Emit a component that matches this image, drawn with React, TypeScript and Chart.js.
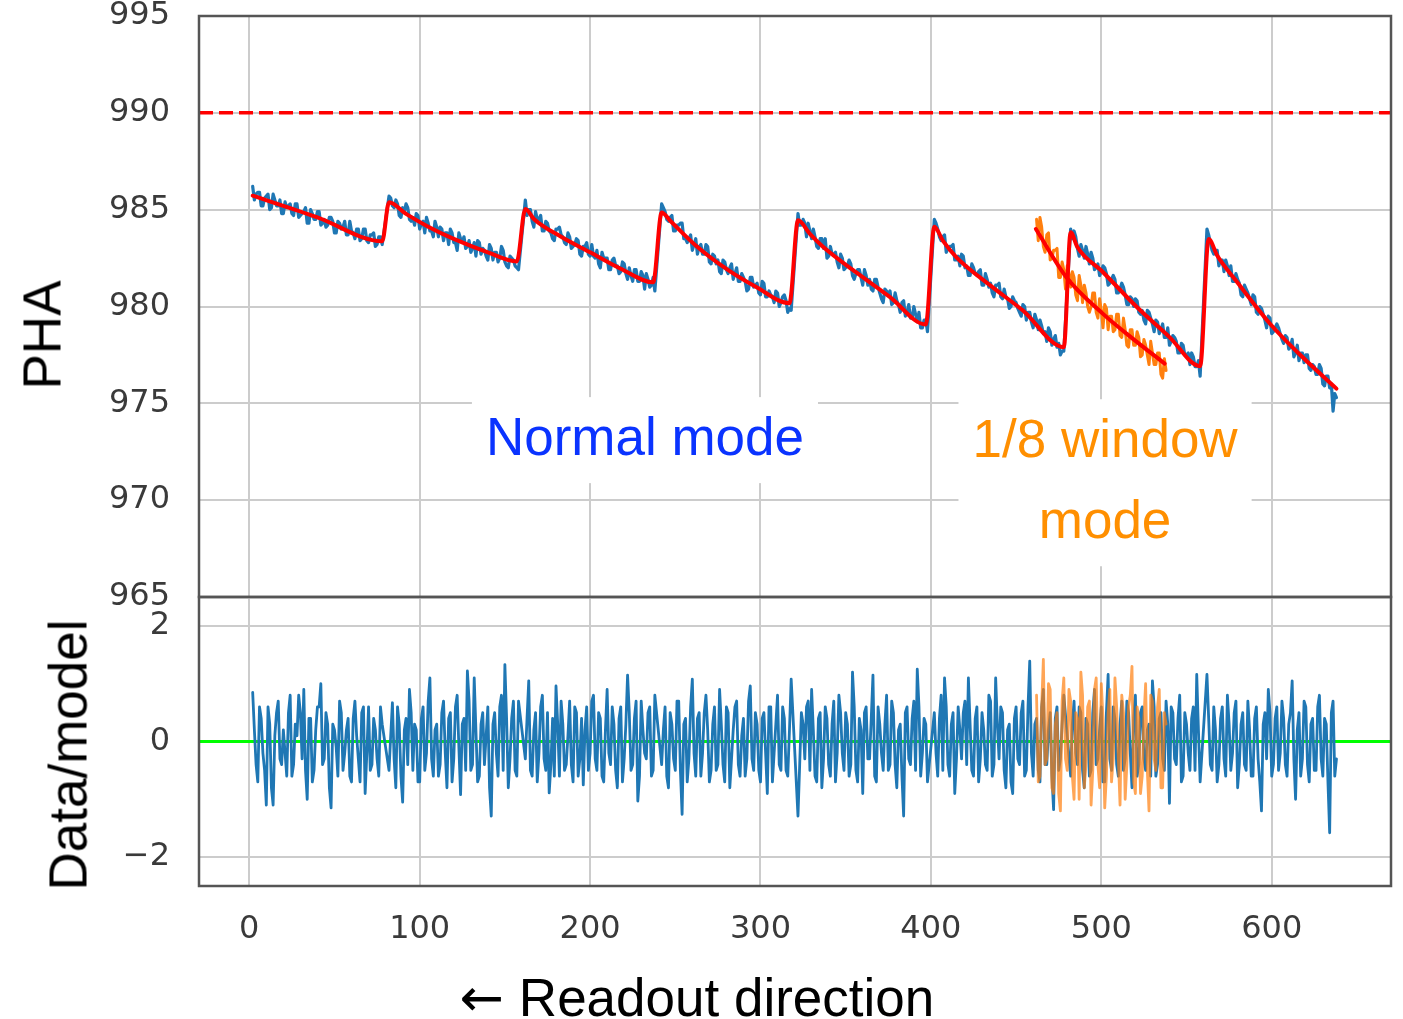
import React, { useEffect, useRef } from 'react';
import { Chart, registerables } from 'chart.js';

Chart.register(...registerables);

// ---- sampling grid: 8 readout frames; even columns (start, start+2, ...) and odd columns (start+1, start+3, ...) ----
const SEG_STARTS = [2, 82, 162, 242, 322, 402, 482, 562];
const SAMPLE_STEP = 2;
const WINDOW_START = 462;

// ---- PHA, normal mode: even columns ----
const PHA_SEG1 = [986.2, 985.8, 985.9, 985.2, 985.7, 985.0, 985.8, 985.2, 985.5, 984.8, 985.1, 985.3, 984.7, 985.3, 984.7, 984.9, 984.3, 985.0, 984.5, 984.9, 984.2, 984.5, 984.2, 984.6, 983.8, 984.4, 984.0, 984.4, 983.7, 983.9, 983.5, 984.0, 983.5, 984.0, 983.3, 983.7, 983.1, 983.6, 983.2];
const PHA_SEG2 = [985.7, 985.2, 985.5, 984.7, 985.1, 985.3, 984.5, 984.6, 984.8, 984.0, 984.4, 984.6, 983.9, 983.6, 984.1, 984.1, 983.4, 983.8, 984.0, 983.3, 982.9, 983.5, 983.6, 983.1, 982.8, 983.3, 983.4, 982.7, 982.9, 982.4, 983.0, 982.8, 982.3, 983.1, 982.3, 982.0, 982.5, 982.1, 981.9];
const PHA_SEG3 = [985.5, 985.0, 984.4, 984.9, 984.5, 983.9, 984.4, 983.9, 983.5, 984.0, 984.1, 983.6, 983.2, 983.6, 983.1, 983.5, 982.7, 983.1, 983.3, 982.6, 982.6, 982.9, 982.0, 982.5, 982.5, 981.9, 982.5, 982.1, 981.8, 982.2, 981.4, 981.6, 981.9, 981.3, 981.8, 980.9, 981.4, 981.1, 980.8];
const PHA_SEG4 = [985.3, 984.9, 984.4, 984.7, 983.9, 984.2, 984.3, 983.5, 983.5, 982.9, 983.5, 983.1, 982.7, 983.2, 982.3, 982.7, 982.2, 981.8, 982.4, 981.9, 982.0, 981.4, 982.0, 981.3, 981.5, 980.8, 981.5, 981.0, 981.2, 980.6, 981.2, 980.5, 980.6, 980.2, 980.7, 980.2, 980.6, 979.7, 979.8];
const PHA_SEG5 = [984.8, 984.2, 984.3, 984.3, 983.5, 983.6, 983.0, 983.5, 983.5, 982.6, 982.7, 982.8, 982.0, 982.5, 982.0, 982.4, 981.6, 981.7, 981.9, 981.1, 981.6, 981.4, 980.8, 981.4, 980.7, 980.2, 980.8, 980.8, 980.2, 980.3, 979.7, 980.3, 979.7, 979.4, 980.0, 979.2, 978.9, 979.3, 978.7];
const PHA_SEG6 = [984.5, 984.0, 983.4, 983.7, 983.0, 983.1, 982.4, 982.6, 982.7, 982.0, 981.6, 982.2, 981.7, 981.8, 981.1, 981.7, 981.0, 980.7, 981.1, 981.2, 980.4, 980.5, 979.9, 980.5, 980.2, 979.7, 980.1, 979.3, 979.7, 978.9, 979.3, 979.3, 978.6, 978.2, 978.7, 978.3, 977.9, 977.5, 977.7];
const PHA_SEG7 = [984.0, 983.9, 983.0, 983.2, 982.5, 982.7, 982.8, 981.9, 982.2, 981.8, 982.0, 981.1, 981.4, 981.4, 980.7, 981.2, 980.6, 980.1, 980.4, 980.4, 979.7, 979.8, 979.1, 979.7, 979.1, 979.3, 978.6, 979.1, 978.4, 978.0, 978.5, 978.2, 977.6, 978.0, 977.5, 977.0, 977.4, 976.9, 976.4];
const PHA_SEG8 = [984.0, 983.3, 982.7, 982.9, 982.4, 981.8, 982.1, 982.1, 981.3, 981.4, 980.6, 981.1, 980.7, 980.1, 980.5, 979.6, 979.9, 979.3, 979.5, 978.6, 978.9, 978.9, 978.3, 978.5, 977.8, 978.3, 977.6, 977.2, 977.6, 977.5, 976.8, 977.0, 976.5, 977.0, 976.0, 976.4, 975.8, 974.6, 975.3];

// ---- PHA, normal mode: odd columns ----
const PHA_ODD1 = [985.5, 985.9, 985.2, 985.6, 985.8, 985.1, 985.5, 985.2, 984.8, 985.4, 985.2, 984.8, 985.3, 984.6, 984.8, 985.1, 984.3, 984.8, 984.5, 984.9, 984.3, 984.1, 984.6, 984.4, 983.8, 984.3, 984.1, 983.7, 984.4, 983.8, 984.0, 983.4, 984.0, 983.4, 983.7, 983.8, 983.2, 983.6];
const PHA_ODD2 = [985.6, 985.1, 985.3, 984.6, 984.9, 985.1, 984.4, 984.2, 984.7, 984.3, 983.8, 984.3, 983.9, 984.4, 983.6, 984.0, 983.8, 983.2, 983.8, 983.3, 983.8, 983.3, 983.0, 983.4, 983.0, 982.6, 983.3, 983.0, 982.6, 983.2, 982.4, 982.8, 982.5, 982.9, 982.1, 982.6, 982.4, 982.0];
const PHA_ODD3 = [984.7, 985.0, 984.1, 984.5, 984.7, 983.9, 984.3, 983.8, 983.4, 984.0, 983.7, 983.3, 983.8, 983.0, 983.2, 983.4, 982.6, 983.1, 982.7, 983.2, 982.5, 982.2, 982.8, 982.5, 981.9, 982.4, 982.1, 981.7, 982.3, 981.7, 982.0, 981.3, 981.9, 981.3, 981.6, 981.7, 981.0, 981.5];
const PHA_ODD4 = [985.1, 984.5, 984.6, 983.9, 984.2, 984.3, 983.5, 983.3, 983.7, 983.2, 982.7, 983.2, 982.7, 983.1, 982.2, 982.6, 982.4, 981.7, 982.3, 981.7, 982.2, 981.7, 981.3, 981.7, 981.3, 980.9, 981.5, 981.1, 980.7, 981.3, 980.5, 980.8, 980.5, 980.8, 980.0, 980.5, 980.3, 979.9];
const PHA_ODD5 = [984.2, 984.5, 983.6, 983.9, 984.0, 983.1, 983.5, 983.0, 982.5, 983.1, 982.7, 982.3, 982.7, 981.9, 982.1, 982.2, 981.4, 981.9, 981.5, 981.9, 981.1, 980.9, 981.4, 981.0, 980.4, 980.9, 980.6, 980.1, 980.7, 980.1, 980.2, 979.5, 980.1, 979.4, 979.6, 979.7, 978.9, 979.3];
const PHA_ODD6 = [984.3, 983.6, 983.6, 982.8, 983.1, 983.2, 982.4, 982.1, 982.6, 982.1, 981.6, 982.0, 981.6, 981.9, 981.1, 981.4, 981.2, 980.5, 981.1, 980.5, 980.9, 980.4, 980.0, 980.3, 979.9, 979.5, 980.0, 979.7, 979.2, 979.6, 978.8, 979.0, 978.7, 978.9, 978.0, 978.5, 978.1, 977.7];
const PHA_ODD7 = [983.5, 983.6, 982.6, 982.9, 983.1, 982.2, 982.5, 982.0, 981.6, 982.1, 981.7, 981.2, 981.6, 980.7, 980.9, 981.0, 980.1, 980.5, 980.0, 980.3, 979.6, 979.3, 979.8, 979.4, 978.7, 979.2, 978.8, 978.4, 978.9, 978.2, 978.4, 977.6, 978.1, 977.5, 977.6, 977.6, 976.9, 977.2];
const PHA_ODD8 = [983.7, 982.9, 982.9, 982.1, 982.4, 982.4, 981.6, 981.3, 981.7, 981.2, 980.5, 980.9, 980.4, 980.6, 979.7, 980.0, 979.6, 978.9, 979.4, 978.7, 979.1, 978.6, 978.1, 978.4, 977.9, 977.4, 978.0, 977.6, 977.1, 977.5, 976.7, 976.9, 976.5, 976.8, 975.9, 976.4, 976.0, 975.5];

// ---- PHA, 1/8 window mode ----
const PHA_WINDOW = [984.5, 984.6, 983.1, 983.7, 982.4, 982.9, 983.0, 981.5, 981.9, 982.1, 981.0, 981.5, 980.3, 981.1, 981.1, 980.0, 980.0, 980.7, 979.4, 979.8, 980.1, 978.8, 979.5, 978.8, 979.6, 978.4, 978.8, 977.9, 978.8, 978.0, 978.4, 977.5, 978.0, 977.0, 977.6, 977.0, 977.6, 976.3, 976.7];
const PHA_WINDOW_ODD = [983.4, 984.1, 982.8, 983.8, 982.5, 982.9, 981.5, 982.3, 980.9, 981.7, 981.8, 980.6, 981.6, 980.2, 980.7, 979.7, 980.7, 979.7, 980.4, 978.9, 979.9, 979.5, 978.7, 979.6, 978.5, 979.4, 978.0, 978.8, 978.0, 978.7, 977.4, 978.3, 977.5, 978.2, 977.0, 977.6, 976.5, 977.3];

// ---- model (fit) curves ----
const FIT_X = [2, 40, 78, 82, 92, 105, 120, 140, 157, 162, 167, 183, 200, 218, 237, 242, 247, 262, 280, 298, 317, 322, 329, 337, 356, 376, 397, 402, 407, 415, 435, 454, 478, 482, 486, 501, 521, 540, 558, 563, 568, 579, 599, 618, 638];
const FIT_Y = [985.72, 984.6, 983.37, 985.38, 984.78, 984.12, 983.49, 982.8, 982.33, 985.04, 984.52, 983.6, 982.8, 981.95, 981.25, 984.86, 984.43, 983.15, 981.94, 980.98, 980.17, 984.45, 983.75, 983.06, 981.77, 980.48, 979.07, 984.12, 983.4, 982.54, 981.08, 979.79, 977.9, 983.83, 983.06, 981.77, 979.96, 978.42, 976.92, 983.49, 982.63, 981.34, 979.11, 977.39, 975.76];
const WIN_FIT_X = [461.6, 479.5, 501, 518.6, 537.2];
const WIN_FIT_Y = [984.0, 981.51, 979.62, 978.33, 977.05];
const THRESHOLD = 990;

// ---- residuals (Data/model): even columns ----
const RES_SEG1 = [0.85, -0.4, 0.6, -0.2, -1.1, 0.3, -1.1, 0.5, -0.3, 0.2, -0.6, 0.8, -0.4, 0.1, 0.5, 0.9, -1.0, 0.4, -0.5, 0.6, 1.0, -0.3, 0.3, -1.15, 0.2, -0.6, 0.5, -0.2, 0.4, -0.7, 0.7, -0.3, 0.5, -0.9, 0.6, -0.4, 0.2, -0.6, 0.3];
const RES_SEG2 = [-0.5, 0.67, -0.8, 0.3, -1.05, 0.4, 0.9, -0.5, 0.2, -0.7, 0.6, -0.2, 1.1, -0.6, 0.3, -0.4, 0.7, -0.8, 0.5, -0.3, 0.8, -0.92, 0.4, 1.22, -0.5, 1.1, -0.7, 0.3, -0.4, 0.6, -1.29, 0.5, -0.6, 0.8, 1.33, -0.8, 0.4, -0.5, 0.7];
const RES_SEG3 = [-0.3, 1.05, -0.6, 0.5, -0.2, 0.8, -0.5, -0.89, 0.4, 0.96, -0.6, 0.3, -0.4, 0.7, -0.7, 0.5, -0.3, -0.75, 0.6, -0.2, 0.8, -0.5, 0.4, -0.7, 0.9, -0.4, 0.3, -0.8, 0.6, -0.3, 1.15, -0.5, 0.4, -1.03, 0.7, -0.2, 0.5, -0.6, 0.8];
const RES_SEG4 = [-0.4, 0.6, -0.8, 0.3, -0.5, 0.7, -1.26, 0.4, -0.3, 1.08, -0.6, 0.5, -0.2, 0.8, -0.7, 0.3, -0.5, 0.9, -0.4, 0.6, -0.8, 0.2, 0.7, -0.6, 0.4, -0.3, 0.96, -0.5, 0.3, -0.7, 0.5, -0.9, 0.6, -0.2, 0.8, -0.5, 0.4, -0.6, 1.08];
const RES_SEG5 = [-1.29, 0.5, -0.3, 0.7, 0.9, -0.6, 0.4, -0.8, 0.6, -0.4, 0.3, -0.7, 0.8, -0.2, 0.5, -0.6, 1.2, -0.5, 0.4, -0.9, 0.6, -0.3, 1.15, -0.7, 0.3, -0.5, 0.8, -0.4, 0.5, -0.8, 0.3, -1.29, 0.6, -0.4, 0.7, 1.25, -0.6, 0.4, -0.7];
const RES_SEG6 = [0.5, -0.6, 0.8, 1.1, -0.4, 0.3, -0.9, 0.6, -0.3, 0.7, 1.1, -0.5, 0.4, -0.7, 0.5, -0.4, 0.8, -0.6, 1.1, -0.3, 0.5, -0.8, 0.3, -0.9, 0.6, -0.4, 0.7, -0.5, 1.39, -0.6, 0.4, -0.7, 0.9, -0.4, 0.5, -1.18, 0.6, -0.3, 0.8];
const RES_SEG7 = [-0.6, 0.7, -0.4, 0.5, -0.8, 0.3, -0.5, 0.9, -0.3, 0.6, -0.7, 1.16, -0.5, 0.4, -0.6, 0.7, -0.3, 0.5, -0.8, 0.8, -0.4, 0.6, -0.5, 0.3, 1.05, -0.6, 0.4, -0.3, 0.7, -1.07, 0.5, -0.4, 0.8, -0.6, 0.3, -0.5, 0.6, 1.16, -0.7];
const RES_SEG8 = [1.16, -0.4, 0.6, -0.7, 0.4, -0.3, 0.8, -0.5, 0.5, -0.8, 0.3, -0.4, 0.7, -0.6, 0.4, -0.3, -1.2, 0.5, 0.9, -0.6, 0.4, -0.5, 0.7, -0.4, 0.3, 1.05, -1.0, 0.5, -0.3, 0.6, -0.7, 0.4, -0.5, 0.8, -0.6, 0.3, -1.58, 0.7, -0.3];

// ---- residuals (Data/model): odd columns ----
const RES_ODD1 = [0.2, -0.7, 0.4, -0.5, 0.6, -0.8, 0.1, 0.7, -0.4, -0.2, 0.5, -0.6, 0.3, 0.8, -0.3, -0.5, 0.4, -0.7, 0.2, 0.6, -0.4, 0.5, -0.8, 0.3, -0.1, 0.7, -0.5, 0.2, -0.6, 0.4, 0.1, -0.7, 0.6, -0.2, -0.5, 0.4, -0.3, 0.6];
const RES_ODD2 = [0.1, -0.3, 0.6, -0.6, 0.2, -0.4, 0.5, 0.3, -0.7, 0.4, -0.5, 0.7, -0.3, 0.2, -0.6, 0.5, -0.2, 0.4, -0.7, 0.6, -0.1, 0.3, -0.5, 0.7, -0.4, 0.2, -0.6, 0.5, 0.1, -0.8, 0.3, -0.2, 0.6, -0.5, 0.4, -0.3, 0.7, -0.6];
const RES_ODD3 = [0.4, -0.5, 0.2, -0.7, 0.6, -0.3, 0.5, -0.4, -0.6, 0.3, 0.7, -0.5, 0.1, -0.4, 0.6, -0.6, 0.4, 0.2, -0.5, 0.7, -0.3, 0.5, -0.6, 0.2, -0.2, 0.6, -0.5, 0.4, -0.7, 0.3, 0.5, -0.4, 0.7, -0.6, 0.2, -0.3, 0.6, -0.5];
const RES_ODD4 = [0.2, -0.6, 0.5, -0.3, 0.7, -0.5, 0.3, -0.7, 0.6, -0.2, 0.4, -0.6, 0.5, 0.2, -0.5, 0.6, -0.4, 0.3, -0.7, 0.5, -0.3, 0.6, -0.4, 0.1, -0.6, 0.7, -0.3, 0.5, -0.5, 0.4, -0.2, 0.6, -0.7, 0.3, -0.4, 0.6, -0.5, 0.2];
const RES_ODD5 = [-0.4, 0.3, 0.6, -0.5, 0.2, -0.7, 0.5, -0.3, 0.4, -0.6, 0.7, -0.2, 0.5, -0.5, 0.3, -0.4, 0.6, -0.7, 0.2, 0.5, -0.3, 0.4, -0.6, 0.6, -0.2, 0.3, -0.5, 0.7, -0.4, 0.2, -0.6, 0.5, -0.3, 0.4, -0.5, 0.6, -0.2, 0.3];
const RES_ODD6 = [-0.2, 0.4, -0.5, 0.6, -0.6, 0.5, -0.3, 0.2, 0.5, -0.4, 0.3, -0.6, 0.6, -0.3, 0.2, -0.5, 0.7, -0.4, 0.3, 0.6, -0.5, 0.2, -0.7, 0.4, -0.3, 0.5, -0.6, 0.6, -0.2, 0.3, -0.5, 0.6, -0.4, 0.2, -0.6, 0.4, -0.5, 0.3];
const RES_ODD7 = [0.3, -0.2, 0.6, -0.5, 0.4, -0.6, 0.5, -0.4, 0.2, -0.7, 0.5, -0.3, 0.6, -0.4, 0.3, -0.5, 0.7, -0.2, 0.4, -0.6, 0.5, -0.3, 0.2, -0.6, 0.6, -0.4, 0.5, -0.5, 0.3, 0.6, -0.3, 0.4, -0.7, 0.5, -0.2, 0.4, -0.5, 0.2];
const RES_ODD8 = [0.4, -0.5, 0.2, -0.4, 0.6, -0.6, 0.3, -0.2, 0.7, -0.4, 0.5, -0.5, 0.2, -0.6, 0.6, -0.7, 0.3, -0.3, 0.5, -0.4, 0.6, -0.2, 0.4, -0.6, 0.5, -0.3, 0.2, -0.6, 0.7, -0.4, 0.3, -0.5, 0.6, -0.3, 0.4, -0.7, 0.5, -0.6];

// ---- residuals, 1/8 window mode ----
const RES_WINDOW = [0.8, -0.6, 1.42, -0.3, 0.9, -0.9, 0.5, -1.2, 1.1, -0.5, 0.7, -1.0, 0.4, 1.2, -0.8, 0.6, -1.1, 0.9, -0.4, 1.0, -1.15, 0.5, -0.7, 1.1, -0.3, 0.8, -1.0, 0.6, 1.3, -0.9, 0.4, -0.6, 1.0, -1.2, 0.7, -0.5, 0.9, -0.8, 0.3];
const RES_WINDOW_ODD = [-0.7, 0.6, -0.4, 1.0, -0.8, 0.3, -0.9, 0.7, -0.3, 0.9, -0.6, 0.5, -1.0, 0.8, -0.4, 0.7, -0.5, 1.1, -0.8, 0.4, -0.6, 0.9, -0.3, 0.6, -1.1, 0.5, -0.4, 0.8, -0.7, 0.6, -0.9, 0.4, -0.5, 0.8, -0.3, 0.6, -0.8, 0.5];

// ---- axes ----
const X_TICKS = [0, 100, 200, 300, 400, 500, 600];
const PHA_TICKS = [965, 970, 975, 980, 985, 990, 995];
const RES_TICKS = [-2, 0, 2];
const X_MIN = -29.5;
const X_MAX = 670;
const PHA_MIN = 965;
const PHA_MAX = 995;
const RES_MIN = -2.5;
const RES_MAX = 2.5;

// ---- annotations (text anchored in data coordinates) ----
const NOTES = [
  { lines: ['Normal mode'], x: 232.2, y: 973.1, color: '#0a33ff' },
  { lines: ['1/8 window', 'mode'], x: 502.2, y: 970.9, color: '#ff8f00' },
];

const FONT_LABEL = '"Liberation Sans", Arial, Helvetica, sans-serif';
const FONT_TICK = '"DejaVu Sans", sans-serif';
const BLUE = '#1f77b4';
const ORANGE = '#ff7f0e';
const RED = '#ff0000';
const GREEN = '#00ff00';
const GRID = '#cccccc';
const FRAME = '#555555';
const TICK_COLOR = '#3a3a3a';
const NOTE_LINE_GAP = 81;

type P = { x: number; y: number };
function columnPoints(x0: number, even: number[], odd: number[]): P[] {
  const pts: P[] = [];
  even.forEach((v, i) => pts.push({ x: x0 + i * SAMPLE_STEP, y: v }));
  odd.forEach((v, i) => pts.push({ x: x0 + 1 + i * SAMPLE_STEP, y: v }));
  return pts.sort((a, b) => a.x - b.x);
}
function framesPoints(evens: number[][], odds: number[][]): P[] {
  return evens.flatMap((ev, s) => columnPoints(SEG_STARTS[s], ev, odds[s]));
}
function xyPoints(xs: number[], ys: number[]): P[] {
  return xs.map((x, i) => ({ x, y: ys[i] }));
}

const framePlugin = {
  id: 'frame',
  afterDraw(chart: any) {
    const { ctx, chartArea: a } = chart;
    ctx.save();
    ctx.strokeStyle = FRAME;
    ctx.lineWidth = 2.5;
    ctx.strokeRect(a.left, a.top, a.right - a.left, a.bottom - a.top);
    ctx.restore();
  },
};

const notesPlugin = {
  id: 'notes',
  afterDatasetsDraw(chart: any) {
    const { ctx, scales } = chart;
    ctx.save();
    ctx.font = `53px ${FONT_LABEL}`;
    ctx.textAlign = 'center';
    ctx.textBaseline = 'middle';
    for (const n of NOTES) {
      const cx = scales.x.getPixelForValue(n.x);
      const cy = scales.y.getPixelForValue(n.y);
      const w = Math.max(...n.lines.map((l) => ctx.measureText(l).width));
      const span = (n.lines.length - 1) * NOTE_LINE_GAP;
      const halfH = span / 2 + 43;
      ctx.fillStyle = '#ffffff';
      ctx.fillRect(cx - w / 2 - 14, cy - halfH, w + 28, halfH * 2);
      ctx.fillStyle = n.color;
      n.lines.forEach((l, k) => ctx.fillText(l, cx, cy - span / 2 + k * NOTE_LINE_GAP));
    }
    ctx.restore();
  },
};

const tickFont = { family: FONT_TICK, size: 32 };
const grid = { color: GRID, lineWidth: 2, drawTicks: false };

function setTicks(values: number[]) {
  return (s: any) => {
    s.ticks = values.map((v) => ({ value: v }));
  };
}
function minusFmt(v: any) {
  const n = Number(v);
  return n < 0 ? '\u2212' + Math.abs(n) : String(n);
}

const lineBase = { pointRadius: 0, borderJoinStyle: 'round', borderCapStyle: 'round' };

export default function App() {
  const topRef = useRef<HTMLCanvasElement>(null);
  const botRef = useRef<HTMLCanvasElement>(null);

  useEffect(() => {
    const normalPts = framesPoints(
      [PHA_SEG1, PHA_SEG2, PHA_SEG3, PHA_SEG4, PHA_SEG5, PHA_SEG6, PHA_SEG7, PHA_SEG8],
      [PHA_ODD1, PHA_ODD2, PHA_ODD3, PHA_ODD4, PHA_ODD5, PHA_ODD6, PHA_ODD7, PHA_ODD8],
    );
    const windowPts = columnPoints(WINDOW_START, PHA_WINDOW, PHA_WINDOW_ODD);
    const resPts = framesPoints(
      [RES_SEG1, RES_SEG2, RES_SEG3, RES_SEG4, RES_SEG5, RES_SEG6, RES_SEG7, RES_SEG8],
      [RES_ODD1, RES_ODD2, RES_ODD3, RES_ODD4, RES_ODD5, RES_ODD6, RES_ODD7, RES_ODD8],
    );
    const resWinPts = columnPoints(WINDOW_START, RES_WINDOW, RES_WINDOW_ODD);

    const top = new Chart(topRef.current!, {
      type: 'line',
      data: {
        datasets: [
          { ...lineBase, label: 'model', data: xyPoints(FIT_X, FIT_Y), borderColor: RED, borderWidth: 4, cubicInterpolationMode: 'monotone', order: 0 } as any,
          { ...lineBase, label: 'model (1/8 window)', data: xyPoints(WIN_FIT_X, WIN_FIT_Y), borderColor: RED, borderWidth: 4, cubicInterpolationMode: 'monotone', order: 0 } as any,
          { ...lineBase, label: '1/8 window mode', data: windowPts, borderColor: ORANGE, borderWidth: 3, order: 1 } as any,
          { ...lineBase, label: 'Normal mode', data: normalPts, borderColor: BLUE, borderWidth: 3.2, order: 2 } as any,
          { pointRadius: 0, label: 'threshold', data: [{ x: X_MIN, y: THRESHOLD }, { x: X_MAX, y: THRESHOLD }], borderColor: RED, borderWidth: 3.5, borderDash: [14, 6], order: 3 },
        ],
      },
      options: {
        responsive: false,
        animation: false,
        events: [],
        layout: { padding: { top: 16, bottom: 422, left: 0, right: 12 } },
        plugins: { legend: { display: false }, tooltip: { enabled: false } },
        scales: {
          x: {
            type: 'linear', min: X_MIN, max: X_MAX,
            afterBuildTicks: setTicks(X_TICKS),
            ticks: { display: false },
            grid, border: { display: false },
            afterFit: (s: any) => { s.height = 0; s.paddingLeft = 0; s.paddingRight = 0; },
          },
          y: {
            type: 'linear', min: PHA_MIN, max: PHA_MAX,
            afterBuildTicks: setTicks(PHA_TICKS),
            ticks: { font: tickFont, color: TICK_COLOR, padding: 29 },
            grid, border: { display: false },
            afterFit: (s: any) => { s.width = 199; s.paddingTop = 0; s.paddingBottom = 0; },
          },
        },
      } as any,
      plugins: [notesPlugin, framePlugin],
    });

    const bot = new Chart(botRef.current!, {
      type: 'line',
      data: {
        datasets: [
          { ...lineBase, label: 'residual (1/8 window)', data: resWinPts, borderColor: 'rgba(255,127,14,0.7)', borderWidth: 2.8, order: 0 } as any,
          { ...lineBase, label: 'residual (normal)', data: resPts, borderColor: BLUE, borderWidth: 2.8, order: 1 } as any,
          { pointRadius: 0, label: 'zero', data: [{ x: X_MIN, y: 0 }, { x: X_MAX, y: 0 }], borderColor: GREEN, borderWidth: 3, order: 2 },
        ],
      },
      options: {
        responsive: false,
        animation: false,
        events: [],
        layout: { padding: { top: 597, bottom: 53, left: 0, right: 12 } },
        plugins: { legend: { display: false }, tooltip: { enabled: false } },
        scales: {
          x: {
            type: 'linear', min: X_MIN, max: X_MAX,
            afterBuildTicks: setTicks(X_TICKS),
            ticks: { font: tickFont, color: TICK_COLOR, padding: 24, maxRotation: 0 },
            grid, border: { display: false },
            afterFit: (s: any) => { s.height = 80; s.paddingLeft = 0; s.paddingRight = 0; },
          },
          y: {
            type: 'linear', min: RES_MIN, max: RES_MAX,
            afterBuildTicks: setTicks(RES_TICKS),
            ticks: { font: tickFont, color: TICK_COLOR, padding: 29, callback: minusFmt },
            grid, border: { display: false },
            afterFit: (s: any) => { s.width = 199; s.paddingTop = 0; s.paddingBottom = 0; },
          },
        },
      } as any,
      plugins: [framePlugin],
    });

    return () => {
      top.destroy();
      bot.destroy();
    };
  }, []);

  const label: React.CSSProperties = {
    position: 'absolute',
    fontFamily: FONT_LABEL,
    fontSize: 53,
    lineHeight: '53px',
    color: '#000',
    whiteSpace: 'nowrap',
  };

  return (
    <div style={{ position: 'absolute', left: 0, top: 0, width: 1403, height: 1019, background: '#fff', overflow: 'hidden' }}>
      <canvas ref={topRef} width={1403} height={1019} style={{ position: 'absolute', left: 0, top: 0 }} />
      <canvas ref={botRef} width={1403} height={1019} style={{ position: 'absolute', left: 0, top: 0 }} />
      <div style={{ ...label, left: 42, top: 335, transform: 'translate(-50%, -50%) rotate(-90deg)' }}>PHA</div>
      <div style={{ ...label, left: 68, top: 755, transform: 'translate(-50%, -50%) rotate(-90deg)' }}>Data/model</div>
      <div style={{ ...label, left: 697, top: 997, transform: 'translate(-50%, -50%)' }}>
        <span style={{ fontFamily: '"DejaVu Sans", sans-serif' }}>{'\u2190'}</span>
        {' Readout direction'}
      </div>
    </div>
  );
}
